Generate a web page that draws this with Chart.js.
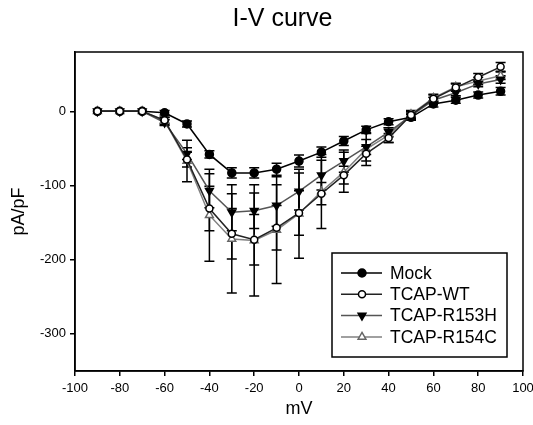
<!DOCTYPE html>
<html>
<head>
<meta charset="utf-8">
<script src="https://cdn.jsdelivr.net/npm/chart.js@4.4.1/dist/chart.umd.min.js"></script>
<style>
  body { margin: 0; background: #fff; }
  canvas { display: block; }
</style>
</head>
<body>
<canvas id="ivChart" width="533" height="425"></canvas>
<script>
// I-V curve data (mV vs pA/pF), mean and error
const voltages = [-90, -80, -70, -60, -50, -40, -30, -20, -10, 0, 10, 20, 30, 40, 50, 60, 70, 80, 90];
const mock   = [0, 0, 0, -2, -17, -58, -83, -83, -78, -67, -55, -40, -25, -14, -8, 10, 15, 22, 27];
const wt     = [0, 0, 0, -12, -65, -131, -165, -173, -157, -137, -111, -86, -57, -36, -5, 17, 32, 46, 60];
const r153h  = [0, 0, 0, -15, -57, -107, -136, -134, -127, -108, -86, -67, -48, -28, -6, 15, 25, 37, 43];
const r154c  = [0, 0, 0, -13, -67, -140, -172, -174, -160, -138, -108, -82, -51, -32, -4, 18, 33, 41, 48];
const mockErr  = [0, 0, 0, 3, 4, 5, 7, 7, 8, 8, 7, 6, 5, 4, 4, 4, 4, 4, 5];
const wtErr    = [0, 0, 0, 4, 10, 30, 34, 34, 30, 30, 15, 12, 10, 6, 5, 5, 5, 5, 6];
const r153hErr = [0, 0, 0, 4, 8, 23, 25, 24, 28, 25, 20, 15, 10, 6, 5, 4, 4, 4, 5];
const r154cErr = [0, 0, 0, 5, 28, 62, 73, 75, 72, 60, 50, 27, 22, 10, 5, 5, 5, 5, 5];
const yTicks = [-300, -200, -100, 0];

const FONT = "Arial, 'Liberation Sans', sans-serif";

function pts(values) {
    return voltages.map((v, i) => ({ x: v, y: values[i] }));
}

// vertical error bars with caps, drawn under the markers
const errorBars = {
    id: 'errorBars',
    beforeDatasetsDraw(chart) {
        const ctx = chart.ctx;
        const yScale = chart.scales.y;
        ctx.save();
        ctx.strokeStyle = '#000';
        ctx.lineWidth = 1.5;
        chart.data.datasets.forEach((ds, i) => {
            const meta = chart.getDatasetMeta(i);
            meta.data.forEach((p, j) => {
                const e = ds.errors[j];
                if (!e) return;
                const v = ds.data[j].y;
                const top = yScale.getPixelForValue(v + e);
                const bot = yScale.getPixelForValue(v - e);
                ctx.beginPath();
                ctx.moveTo(p.x, top); ctx.lineTo(p.x, bot);
                ctx.moveTo(p.x - 5, top); ctx.lineTo(p.x + 5, top);
                ctx.moveTo(p.x - 5, bot); ctx.lineTo(p.x + 5, bot);
                ctx.stroke();
            });
        });
        ctx.restore();
    }
};

// the title sits a little right of the page centre
const titleShift = {
    id: 'titleShift',
    afterLayout(chart) {
        if (chart.titleBlock) {
            chart.titleBlock.left = 32;
            chart.titleBlock.right = 533;
        }
    }
};

// frame box and legend inside the plot
const frameAndLegend = {
    id: 'frameAndLegend',
    afterDraw(chart) {
        const ctx = chart.ctx;
        const a = chart.chartArea;
        ctx.save();
        ctx.strokeStyle = '#000';
        ctx.lineWidth = 1.5;
        ctx.strokeRect(a.left, a.top, a.right - a.left, a.bottom - a.top);

        const bw = 175, bh = 104;
        const bx = a.right - 16 - bw, by = a.bottom - 14 - bh;
        ctx.fillStyle = '#fff';
        ctx.fillRect(bx, by, bw, bh);
        ctx.strokeRect(bx, by, bw, bh);

        ctx.font = '17.5px ' + FONT;
        ctx.textBaseline = 'middle';
        chart.data.datasets.forEach((ds, i) => {
            const y = by + 20 + i * 21.3;
            ctx.strokeStyle = ds.borderColor;
            ctx.lineWidth = 1.5;
            ctx.beginPath();
            ctx.moveTo(bx + 9, y); ctx.lineTo(bx + 50, y);
            ctx.stroke();
            ctx.fillStyle = ds.pointBackgroundColor;
            ctx.strokeStyle = ds.pointBorderColor;
            ctx.lineWidth = 1.5;
            Chart.helpers.drawPoint(ctx, {
                pointStyle: ds.pointStyle,
                radius: ds.pointRadius,
                rotation: ds.pointRotation || 0,
                borderWidth: 1.5
            }, bx + 30, y);
            ctx.fillStyle = '#000';
            ctx.fillText(ds.label, bx + 58, y + 1);
        });
        ctx.restore();
    }
};

const ctx = document.getElementById('ivChart').getContext('2d');
const ivChart = new Chart(ctx, {
    type: 'line',
    data: {
        datasets: [{
            label: 'Mock',
            data: pts(mock),
            errors: mockErr,
            order: 1,
            borderColor: '#000',
            pointBackgroundColor: '#000',
            pointBorderColor: '#000',
            pointStyle: 'circle',
            pointRadius: 4
        }, {
            label: 'TCAP-WT',
            data: pts(wt),
            errors: wtErr,
            order: 0,
            borderColor: '#222',
            pointBackgroundColor: '#fff',
            pointBorderColor: '#000',
            pointStyle: 'circle',
            pointRadius: 3.5
        }, {
            label: 'TCAP-R153H',
            data: pts(r153h),
            errors: r153hErr,
            order: 2,
            borderColor: '#555',
            pointBackgroundColor: '#000',
            pointBorderColor: '#000',
            pointStyle: 'triangle',
            pointRotation: 180,
            pointRadius: 4.5
        }, {
            label: 'TCAP-R154C',
            data: pts(r154c),
            errors: r154cErr,
            order: 3,
            borderColor: '#808080',
            pointBackgroundColor: '#fff',
            pointBorderColor: '#666',
            pointStyle: 'triangle',
            pointRadius: 4.5
        }]
    },
    options: {
        responsive: false,
        animation: false,
        layout: { padding: { left: 0, right: 10, top: 0, bottom: 0 } },
        elements: {
            line: { borderWidth: 1.5, tension: 0 },
            point: { borderWidth: 1.5 }
        },
        plugins: {
            legend: { display: false },
            tooltip: { enabled: false },
            title: {
                display: true,
                text: 'I-V curve',
                color: '#000',
                font: { family: FONT, size: 25, weight: 'normal' },
                padding: { top: 4, bottom: 18 }
            }
        },
        scales: {
            x: {
                type: 'linear',
                min: -100,
                max: 100,
                ticks: { stepSize: 20, color: '#000', padding: 5, font: { family: FONT, size: 13 } },
                grid: { drawOnChartArea: false, drawTicks: true, tickLength: 5, color: '#000', lineWidth: 1.5 },
                border: { display: true, color: '#000', width: 1.5 },
                title: { display: true, text: 'mV', color: '#000', font: { family: FONT, size: 18 }, padding: { top: 0, bottom: 5 } },
                afterFit(scale) {
                    scale.height = 54;
                    scale.paddingLeft = 0;
                    scale.paddingRight = 0;
                }
            },
            y: {
                min: -350,
                max: 80,
                afterBuildTicks(scale) {
                    scale.ticks = yTicks.map(v => ({ value: v }));
                },
                ticks: { color: '#000', padding: 4, font: { family: FONT, size: 13 } },
                grid: { drawOnChartArea: false, drawTicks: true, tickLength: 5, color: '#000', lineWidth: 1.5 },
                border: { display: true, color: '#000', width: 1.5 },
                title: { display: true, text: 'pA/pF', color: '#000', font: { family: FONT, size: 18 }, padding: { top: 8, bottom: 0 } },
                afterFit(scale) {
                    scale.width = 75;
                    scale.paddingTop = 0;
                    scale.paddingBottom = 0;
                }
            }
        }
    },
    plugins: [titleShift, errorBars, frameAndLegend]
});
</script>
</body>
</html>
